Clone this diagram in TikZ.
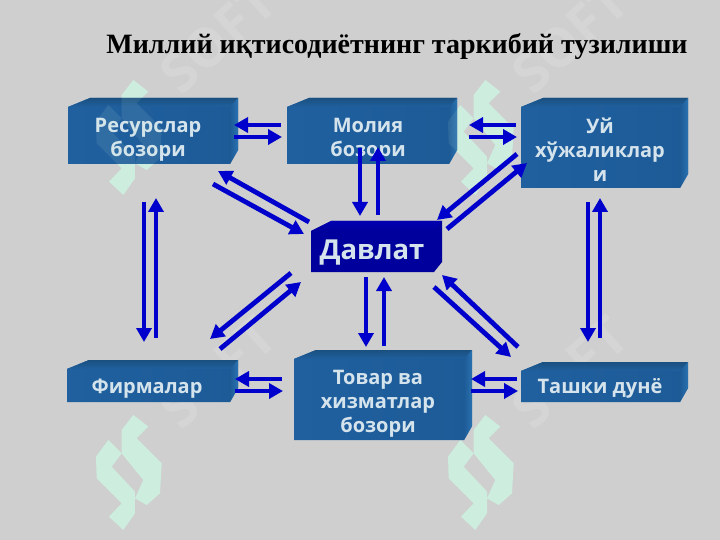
\documentclass[tikz,border=0pt]{standalone}
\usepackage{fontspec}
\setmainfont{Liberation Serif}
\newfontfamily\boxfont{Open Sans}
\usetikzlibrary{arrows.meta}
\definecolor{pagebg}{HTML}{CFCFCF}
\definecolor{mint}{HTML}{CDEEDF}
\definecolor{softgrey}{HTML}{D5D5D5}
\definecolor{arrowblue}{HTML}{0000CC}
\definecolor{faceblue}{HTML}{20609F}
\definecolor{facedark}{HTML}{1D5B97}
\definecolor{topblue}{HTML}{1A5080}
\definecolor{sideblue}{HTML}{2A72B0}
\definecolor{boxtext}{HTML}{D5E4EC}
\definecolor{statebg}{HTML}{00009C}
\definecolor{statetop}{HTML}{0000B0}
\tikzset{
  conn/.style={draw=arrowblue,line width=4.8pt,-{Triangle[length=14pt,width=15pt]}},
  anchorbox/.style={inner sep=0pt,outer sep=0pt},
  boxlabel/.style={font=\boxfont\bfseries\fontsize{20}{24}\selectfont,text=boxtext,align=center,inner sep=0pt},
  statelabel/.style={font=\boxfont\bfseries\fontsize{27.5}{30}\selectfont,text=boxtext,inner sep=0pt},
  titlelabel/.style={font=\bfseries\fontsize{28}{32}\selectfont,text=black,inner sep=0pt},
  softmark/.style={font=\boxfont\bfseries\fontsize{54}{56}\selectfont,text=softgrey,rotate=42,inner sep=0pt}
}
% solid block: name, left, top, right, bottom
\newcommand\solidblock[5]{%
  \shade[left color=faceblue,right color=facedark] (#2,{#3+9}) -- ({#2+22},#3) -- (#4,#3) -- (#4,{#5-14}) -- ({#4-8},#5) -- (#2,#5) -- cycle;
  \shade[top color=topblue,bottom color=faceblue] (#2,{#3+9}) -- ({#2+22},#3) -- (#4,#3) -- ({#4-8},{#3+9}) -- cycle;
  \shade[left color=facedark,right color=sideblue] ({#4-8},{#3+9}) -- (#4,#3) -- (#4,{#5-14}) -- ({#4-8},#5) -- cycle;
  \node[anchorbox,minimum width={(#4-#2)*1pt},minimum height={(#5-#3)*1pt}] (#1) at ({(#2+#4)/2},{(#3+#5)/2}) {};
}
% logo glyph, drawn relative to the lower left copy
\newcommand\logomark[3]{%
  \begin{scope}[shift={(#1,#2)},x=0.3333pt,y=-0.3333pt]
    \fill[#3] (160,45) -- (205,80) -- (170,115) -- (245,190) -- (240,280) -- (200,315) -- (165,295) -- (190,240) -- (125,160) -- (125,90) -- cycle;
    \fill[#3] (85,120) -- (125,160) -- (95,200) -- (165,275) -- (165,340) -- (130,390) -- (87,350) -- (125,310) -- (50,235) -- (48,170) -- cycle;
  \end{scope}%
}
\newcommand\conn[4]{\draw[conn] ([shift={(#2)}]#1.center) -- ([shift={(#4)}]#3.center);}
\begin{document}
\begin{tikzpicture}[x=1pt,y=-1pt]
\useasboundingbox (0,0) rectangle (720,540);
\fill[pagebg] (0,0) rectangle (720,540);
% watermark under the blocks
\node[softmark] (wm1) at (218,37) {SOFT};
\node[softmark] (wm2) at (570,37) {SOFT};
\node[softmark] (wm3) at (218,372) {SOFT};
\node[softmark] (wm4) at (570,372) {SOFT};
\logomark{80}{65}{mint}
\logomark{432}{65}{mint}
\logomark{80}{400}{mint}
\logomark{432}{400}{mint}
% blocks
\solidblock{res}{68}{98}{238}{164}
\solidblock{mol}{287}{98}{457}{164}
\solidblock{uy}{521}{98}{688}{188}
\solidblock{fir}{67}{360}{238}{402}
\solidblock{tov}{294}{350}{472}{440}
\solidblock{tas}{521}{362}{688}{402}
\fill[statebg] (311,231) -- (331,221) -- (442,221) -- (442,262) -- (434,272) -- (311,272) -- cycle;
\shade[top color=statetop,bottom color=statebg] (311,231) -- (331,221) -- (442,221) -- (434,231) -- cycle;
\node[anchorbox,minimum width=131pt,minimum height=51pt] (dav) at (376.5,246.5) {};
% labels
\node[titlelabel] (title) at (397,46.5) {Миллий иқтисодиётнинг таркибий тузилиши};
\node[boxlabel] (res-t) at (148,140) {Ресурслар\\бозори};
\node[boxlabel] (mol-t) at (368,140) {Молия\\бозори};
\node[boxlabel] (uy-t) at (600,149.5) {Уй\\хўжаликлар\\и};
\node[boxlabel] (fir-t) at (147,389) {Фирмалар};
\node[boxlabel] (tov-t) at (378,404) {Товар ва\\хизматлар\\бозори};
\node[boxlabel] (tas-t) at (600,388) {Ташки дунё};
\node[statelabel] (dav-t) at (372,253) {Давлат};
% faint watermark over the blocks
\logomark{80}{65}{mint,opacity=.10}
\logomark{432}{65}{mint,opacity=.10}
% connectors
\conn{mol}{-91,-6}{res}{81,-6}
\conn{res}{81,6}{mol}{-90,6}
\conn{uy}{-88.5,-18}{mol}{97,-6}
\conn{mol}{97,6}{uy}{-87.5,-6}
\conn{mol}{-12,17}{dav}{-16.5,-30.5}
\conn{dav}{1.5,-31.5}{mol}{6,16}
\conn{dav}{-67.5,-24.5}{res}{65,40}
\conn{res}{60,53}{dav}{-72.5,-12.5}
\conn{uy}{-87.5,11}{dav}{60.5,-26.5}
\conn{dav}{70.5,-17.5}{uy}{-77.5,20}
\conn{res}{-9,71}{fir}{-8.5,-39}
\conn{fir}{3.5,-43}{res}{3,67}
\conn{uy}{-16.5,59}{tas}{-16.5,-40}
\conn{tas}{-4.5,-44}{uy}{-4.5,55}
\conn{dav}{-85.5,26.5}{fir}{57.5,-42}
\conn{fir}{67.5,-32}{dav}{-75.5,35.5}
\conn{dav}{-10.5,30.5}{tov}{-17,-48}
\conn{tov}{1,-49}{dav}{7.5,30.5}
\conn{tas}{-86.5,-35}{dav}{65.5,28.5}
\conn{dav}{57.5,40.5}{tas}{-93.5,-25}
\conn{tov}{-101,-16}{fir}{82.5,-2}
\conn{fir}{82.5,10}{tov}{-100,-4}
\conn{tas}{-87.5,-3}{tov}{88,-16}
\conn{tov}{88,-4}{tas}{-86.5,9}
\end{tikzpicture}
\end{document}
